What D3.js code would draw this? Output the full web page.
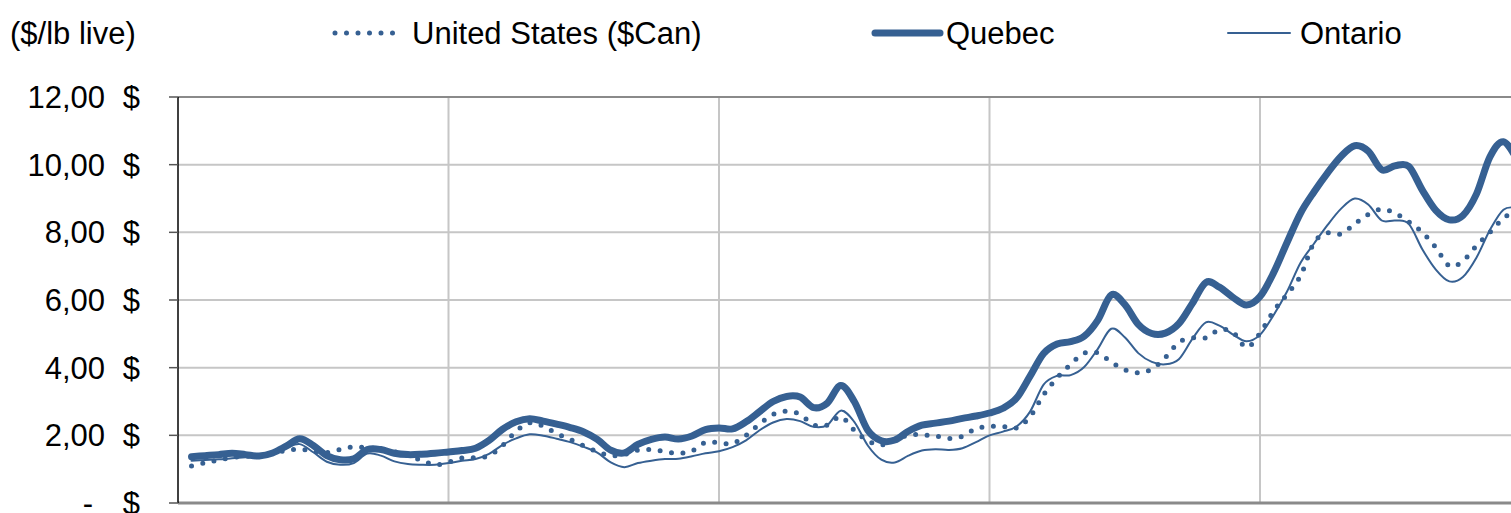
<!DOCTYPE html>
<html>
<head>
<meta charset="utf-8">
<script src="https://cdn.jsdelivr.net/npm/d3@7"></script>
<style>
body { margin: 0; background: #fff; }
svg { display: block; }
text { font-family: "Liberation Sans", Arial, sans-serif; font-size: 31px; fill: #000; }
</style>
</head>
<body>
<div id="chart"></div>
<script>
// price per lb live, one value per period
var usValues = [1.09, 1.19, 1.27, 1.34, 1.38, 1.40, 1.47, 1.55, 1.59, 1.53,
    1.49, 1.58, 1.66, 1.63, 1.59, 1.52, 1.40, 1.26, 1.13, 1.21,
    1.33, 1.34, 1.40, 1.70, 2.12, 2.37, 2.27, 2.05, 1.88, 1.69,
    1.52, 1.40, 1.43, 1.56, 1.58, 1.52, 1.47, 1.54, 1.79, 1.78,
    1.76, 2.00, 2.34, 2.62, 2.71, 2.62, 2.31, 2.30, 2.55, 2.15,
    1.84, 1.72, 1.85, 2.01, 2.01, 1.98, 1.91, 1.97, 2.20, 2.26,
    2.26, 2.22, 2.55, 3.20, 3.70, 4.10, 4.43, 4.44, 4.17, 3.94,
    3.85, 3.96, 4.30, 4.75, 4.88, 4.88, 5.12, 5.05, 4.60, 5.02,
    5.67, 6.17, 6.72, 7.70, 7.98, 7.95, 8.25, 8.53, 8.68, 8.56,
    8.31, 8.00, 7.55, 7.01, 7.15, 7.60, 8.00, 8.42, 8.65];

var quebecValues = [1.37, 1.40, 1.43, 1.47, 1.43, 1.39, 1.48, 1.68, 1.90, 1.70,
    1.40, 1.28, 1.31, 1.58, 1.58, 1.47, 1.43, 1.44, 1.47, 1.51,
    1.55, 1.62, 1.85, 2.18, 2.40, 2.49, 2.42, 2.33, 2.23, 2.10,
    1.88, 1.56, 1.48, 1.73, 1.88, 1.95, 1.89, 1.98, 2.17, 2.22,
    2.19, 2.40, 2.70, 3.00, 3.15, 3.13, 2.82, 2.95, 3.47, 3.00,
    2.15, 1.84, 1.86, 2.12, 2.30, 2.36, 2.42, 2.50, 2.57, 2.66,
    2.80, 3.10, 3.75, 4.42, 4.70, 4.77, 4.93, 5.40, 6.15, 5.87,
    5.28, 5.01, 5.02, 5.30, 5.90, 6.52, 6.38, 6.08, 5.85, 6.10,
    6.80, 7.70, 8.57, 9.20, 9.76, 10.25, 10.56, 10.40, 9.85, 9.97,
    9.95, 9.25, 8.65, 8.37, 8.50, 9.13, 10.23, 10.68, 10.15];

var ontarioValues = [1.25, 1.27, 1.29, 1.32, 1.35, 1.38, 1.48, 1.63, 1.74, 1.50,
    1.22, 1.13, 1.18, 1.46, 1.40, 1.23, 1.15, 1.13, 1.13, 1.18,
    1.25, 1.30, 1.45, 1.72, 1.91, 2.03, 1.99, 1.90, 1.80, 1.66,
    1.49, 1.20, 1.06, 1.18, 1.25, 1.30, 1.31, 1.38, 1.47, 1.53,
    1.65, 1.85, 2.15, 2.38, 2.48, 2.42, 2.25, 2.30, 2.73, 2.40,
    1.70, 1.28, 1.20, 1.40, 1.55, 1.59, 1.57, 1.62, 1.80, 2.00,
    2.11, 2.26, 2.70, 3.50, 3.76, 3.78, 4.02, 4.55, 5.15, 4.90,
    4.43, 4.17, 4.10, 4.25, 4.85, 5.34, 5.24, 4.98, 4.78, 4.97,
    5.55, 6.25, 7.10, 7.67, 8.22, 8.70, 9.00, 8.82, 8.35, 8.35,
    8.25, 7.50, 6.90, 6.55, 6.68, 7.25, 8.07, 8.67, 8.72];

var seriesNames = ["United States ($Can)", "Quebec", "Ontario"];
var yTicks = [0, 2, 4, 6, 8, 10, 12];
var unitLabel = "($/lb live)";

var width = 1511, height = 513;
var plot = { left: 178, top: 97, bottom: 503, right: 1530.5 };
var blue = "#366092";

var x = d3.scaleLinear().domain([-1, 99]).range([plot.left, plot.right]);
var y = d3.scaleLinear().domain([0, 12]).range([plot.bottom, plot.top]);

var svg = d3.select("#chart").append("svg")
    .attr("width", width)
    .attr("height", height);

// horizontal grid
svg.selectAll("line.hgrid")
    .data(yTicks.filter(function (d) { return d > 0 && d < 12; }))
    .enter().append("line")
    .attr("class", "hgrid")
    .attr("x1", plot.left).attr("x2", width)
    .attr("y1", function (d) { return y(d); })
    .attr("y2", function (d) { return y(d); })
    .attr("stroke", "#c6c6c6").attr("stroke-width", 2);

// vertical grid, every 20 periods
svg.selectAll("line.vgrid")
    .data(d3.range(19, 99, 20))
    .enter().append("line")
    .attr("class", "vgrid")
    .attr("x1", function (d) { return x(d); })
    .attr("x2", function (d) { return x(d); })
    .attr("y1", plot.top).attr("y2", plot.bottom)
    .attr("stroke", "#c6c6c6").attr("stroke-width", 2);

// plot border top + bottom axis
svg.append("line")
    .attr("x1", plot.left).attr("x2", width)
    .attr("y1", y(12)).attr("y2", y(12))
    .attr("stroke", "#8a8a8a").attr("stroke-width", 2);
svg.append("line")
    .attr("x1", plot.left).attr("x2", width)
    .attr("y1", y(0)).attr("y2", y(0))
    .attr("stroke", "#8a8a8a").attr("stroke-width", 3);

// y axis with accounting style labels
var yAxis = svg.append("g").attr("class", "y-axis");
yAxis.append("line")
    .attr("x1", plot.left).attr("x2", plot.left)
    .attr("y1", plot.top).attr("y2", plot.bottom)
    .attr("stroke", "#000").attr("stroke-width", 1.5);

var tick = yAxis.selectAll("g.tick")
    .data(yTicks)
    .enter().append("g")
    .attr("class", "tick")
    .attr("transform", function (d) { return "translate(0," + y(d) + ")"; });

tick.append("line")
    .attr("x1", plot.left - 9).attr("x2", plot.left)
    .attr("stroke", "#555").attr("stroke-width", 1.5);

var fmt = d3.formatLocale({ decimal: ",", thousands: " ", grouping: [3], currency: ["", " $"] }).format(".2f");

tick.append("text")
    .attr("x", function (d) { return d === 0 ? 93 : 105; })
    .attr("dy", "0.35em")
    .attr("text-anchor", "end")
    .text(function (d) { return d === 0 ? "-" : fmt(d); });

tick.append("text")
    .attr("x", 140)
    .attr("dy", "0.35em")
    .attr("text-anchor", "end")
    .text("$");

// series lines
var line = d3.line()
    .x(function (d, i) { return x(i); })
    .y(function (d) { return y(d); })
    .curve(d3.curveCatmullRom.alpha(0));

var series = [
    { name: seriesNames[0], values: usValues, width: 5, dash: "0 11.5" },
    { name: seriesNames[1], values: quebecValues, width: 7, dash: null },
    { name: seriesNames[2], values: ontarioValues, width: 2, dash: null }
];

svg.selectAll("path.series")
    .data(series)
    .enter().append("path")
    .attr("class", "series")
    .attr("d", function (d) { return line(d.values); })
    .attr("fill", "none")
    .attr("stroke", blue)
    .attr("stroke-width", function (d) { return d.width; })
    .attr("stroke-linecap", "round")
    .attr("stroke-linejoin", "round")
    .attr("stroke-dasharray", function (d) { return d.dash; });

// unit label + legend
svg.append("text")
    .attr("x", 10).attr("y", 33).attr("dy", "0.35em")
    .text(unitLabel);

var legendPos = [
    { x1: 335, x2: 400, tx: 412 },
    { x1: 875, x2: 940, tx: 946 },
    { x1: 1228, x2: 1290, tx: 1300 }
];

var legend = svg.selectAll("g.legend")
    .data(series)
    .enter().append("g")
    .attr("class", "legend");

legend.append("line")
    .attr("x1", function (d, i) { return legendPos[i].x1; })
    .attr("x2", function (d, i) { return legendPos[i].x2; })
    .attr("y1", 33).attr("y2", 33)
    .attr("stroke", blue)
    .attr("stroke-width", function (d) { return d.width; })
    .attr("stroke-linecap", "round")
    .attr("stroke-dasharray", function (d) { return d.dash; });

legend.append("text")
    .attr("x", function (d, i) { return legendPos[i].tx; })
    .attr("y", 33).attr("dy", "0.35em")
    .text(function (d) { return d.name; });
</script>
</body>
</html>
